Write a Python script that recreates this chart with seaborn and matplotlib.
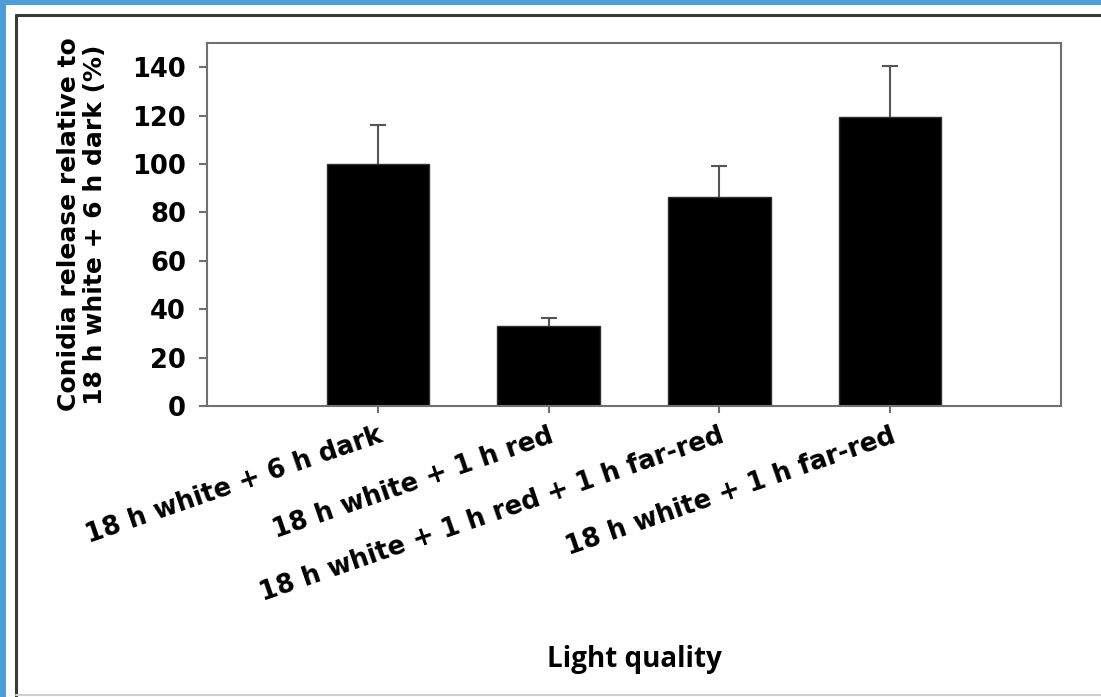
import matplotlib
matplotlib.use('Agg')
import matplotlib.pyplot as plt
import seaborn as sns
import pandas as pd
from matplotlib.patches import Rectangle
from matplotlib.lines import Line2D

# values
treatments = [
    '18 h white + 6 h dark',
    '18 h white + 1 h red',
    '18 h white + 1 h red + 1 h far-red',
    '18 h white + 1 h far-red',
]
release_pct = [100, 33, 86.5, 119.5]
upper_err = [16, 3.5, 12.5, 21]

sns.set_style('white')
plt.rcParams['font.family'] = ['DejaVu Sans']
plt.rcParams['font.weight'] = 'bold'
plt.rcParams['text.color'] = 'black'
plt.rcParams['axes.labelcolor'] = 'black'
plt.rcParams['xtick.labelcolor'] = 'black'
plt.rcParams['ytick.labelcolor'] = 'black'

W, H = 1101, 697
fig = plt.figure(figsize=(W / 100, H / 100), dpi=100)
fig.patch.set_facecolor('#4c9ed9')
fig.patches.append(Rectangle((6 / W, 0), 1, 1 - 5 / H, transform=fig.transFigure,
                             facecolor='white', edgecolor='none', zorder=-5))
fig.add_artist(Line2D([16 / W, 1], [1 - 15 / H, 1 - 15 / H], color='#3a3a3a', lw=2.2, zorder=-4))
fig.add_artist(Line2D([16 / W, 16 / W], [0, 1 - 15 / H], color='#3a3a3a', lw=2.2, zorder=-4))
fig.add_artist(Line2D([16 / W, 1], [2 / H, 2 / H], color='#d0d0d0', lw=1.5, zorder=-4))

ax = fig.add_axes([207 / W, 1 - 406 / H, 854 / W, 363 / H])
df = pd.DataFrame({'treatment': treatments, 'release': release_pct})
sns.barplot(data=df, x='treatment', y='release', color='black', saturation=1,
            width=0.6, errorbar=None, edgecolor='#303030', linewidth=1, ax=ax, zorder=2)
eb = ax.errorbar(range(len(treatments)), release_pct, yerr=[[0] * len(upper_err), upper_err],
                 fmt='none', ecolor='#555555', elinewidth=1.5, capsize=5.5, capthick=1.5, zorder=1)
# only the upper whisker is drawn in the original
for cap in eb[1]:
    if list(cap.get_ydata()) == release_pct:
        cap.set_visible(False)

ax.set_xlim(-1, 4)
ax.set_ylim(0, 150)
ax.set_yticks(range(0, 141, 20))
for s in ax.spines.values():
    s.set_color('#707070')
    s.set_linewidth(1.5)
ax.tick_params(axis='y', direction='out', length=6, width=1.5, color='#707070',
               labelsize=18.5, pad=9, left=True)
ax.tick_params(axis='x', direction='out', length=5, width=1.5, color='#707070',
               labelsize=18.5, pad=7, bottom=True)
plt.setp(ax.get_xticklabels(), rotation=19, ha='right', va='top', rotation_mode='anchor')

ax.set_xlabel('')
ax.set_ylabel('Conidia release relative to\n18 h white + 6 h dark (%)',
              fontsize=18, fontweight='bold', linespacing=1.1)
ax.yaxis.set_label_coords(-0.117, 0.5)

fig.text(634 / W, 1 - 660 / H, 'Light quality', family='Open Sans', weight='bold',
         fontsize=20, ha='center', va='center')

fig.savefig('out.png', dpi=100, facecolor=fig.get_facecolor())
